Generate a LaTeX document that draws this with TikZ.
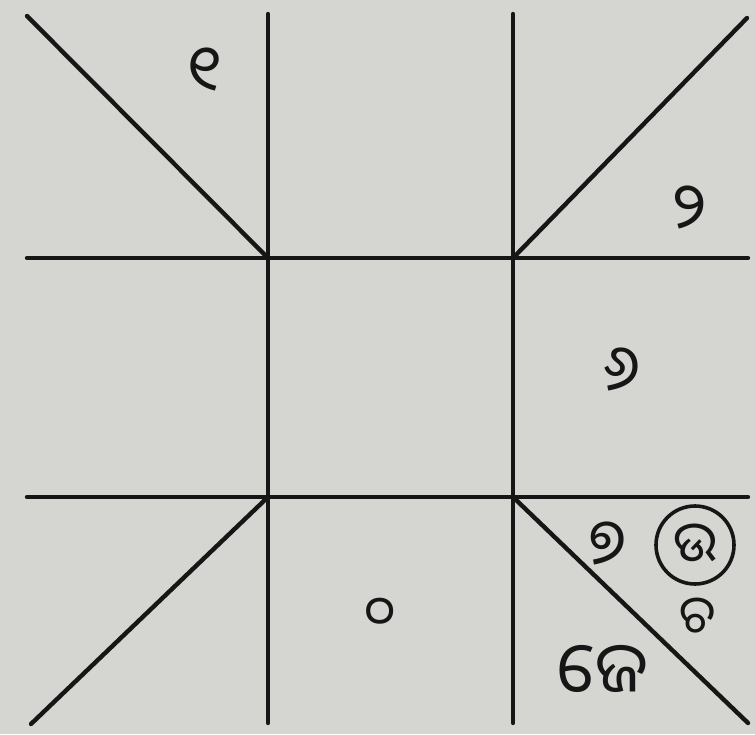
\documentclass[tikz,border=0pt]{standalone}
\usepackage{fontspec}
\newfontfamily\odia[Script=Oriya]{Noto Sans Oriya UI}
\definecolor{paper}{RGB}{213,213,209}
\definecolor{ink}{RGB}{22,22,22}
\tikzset{
  rule/.style={draw=ink, line width=4.4pt, line cap=round},
  digit/.style={font=\odia\fontsize{64}{64}\selectfont, text=ink, inner sep=0pt},
  smalldigit/.style={font=\odia\fontsize{52}{52}\selectfont, text=ink, inner sep=0pt},
  ring/.style={draw=ink, line width=3.6pt, circle, minimum size=78pt, inner sep=0pt}
}
\begin{document}
\begin{tikzpicture}[x=1pt,y=-1pt]
\fill[paper] (0,0) rectangle (755,734);
\useasboundingbox (0,0) rectangle (755,734);
% grid corners
\coordinate (A) at (268,258);
\coordinate (B) at (513,258);
\coordinate (C) at (268,497);
\coordinate (D) at (513,497);
% free ends
\coordinate (Atop) at (268,14);
\coordinate (Btop) at (513,14);
\coordinate (Cbot) at (268,723);
\coordinate (Dbot) at (513,723);
\coordinate (Hl1) at (27,258);
\coordinate (Hr1) at (748,258);
\coordinate (Hl2) at (27,497);
\coordinate (Hr2) at (748,497);
\coordinate (NW) at (27,16);
\coordinate (NE) at (747,18);
\coordinate (SW) at (31,724);
\coordinate (SE) at (748,723);
% lines
\draw[rule] (Atop) -- (Cbot);
\draw[rule] (Btop) -- (Dbot);
\draw[rule] (Hl1) -- (Hr1);
\draw[rule] (Hl2) -- (Hr2);
\draw[rule] (A) -- (NW);
\draw[rule] (B) -- (NE);
\draw[rule] (C) -- (SW);
\draw[rule] (D) -- (SE);
% texts
\node[digit] (t1) at (205,72) {୧};
\node[digit] (t2) at (690,210) {୨};
\node[digit] (t6) at (622,372) {୬};
\node[smalldigit] (t0) at (380,615) {୦};
\node[digit] (t7) at (608,546) {୭};
\node[ring] (ringnode) at (695,545) {};
\node[font=\odia\fontsize{56}{56}\selectfont, text=ink, inner sep=0pt] (t8) at (ringnode) {ଉ};
\node[smalldigit] (tc) at (698,618) {ଚ};
\node[font=\odia\fontsize{70}{70}\selectfont, text=ink, inner sep=0pt] (word) at (603,672) {ଜେ};
\end{tikzpicture}
\end{document}
